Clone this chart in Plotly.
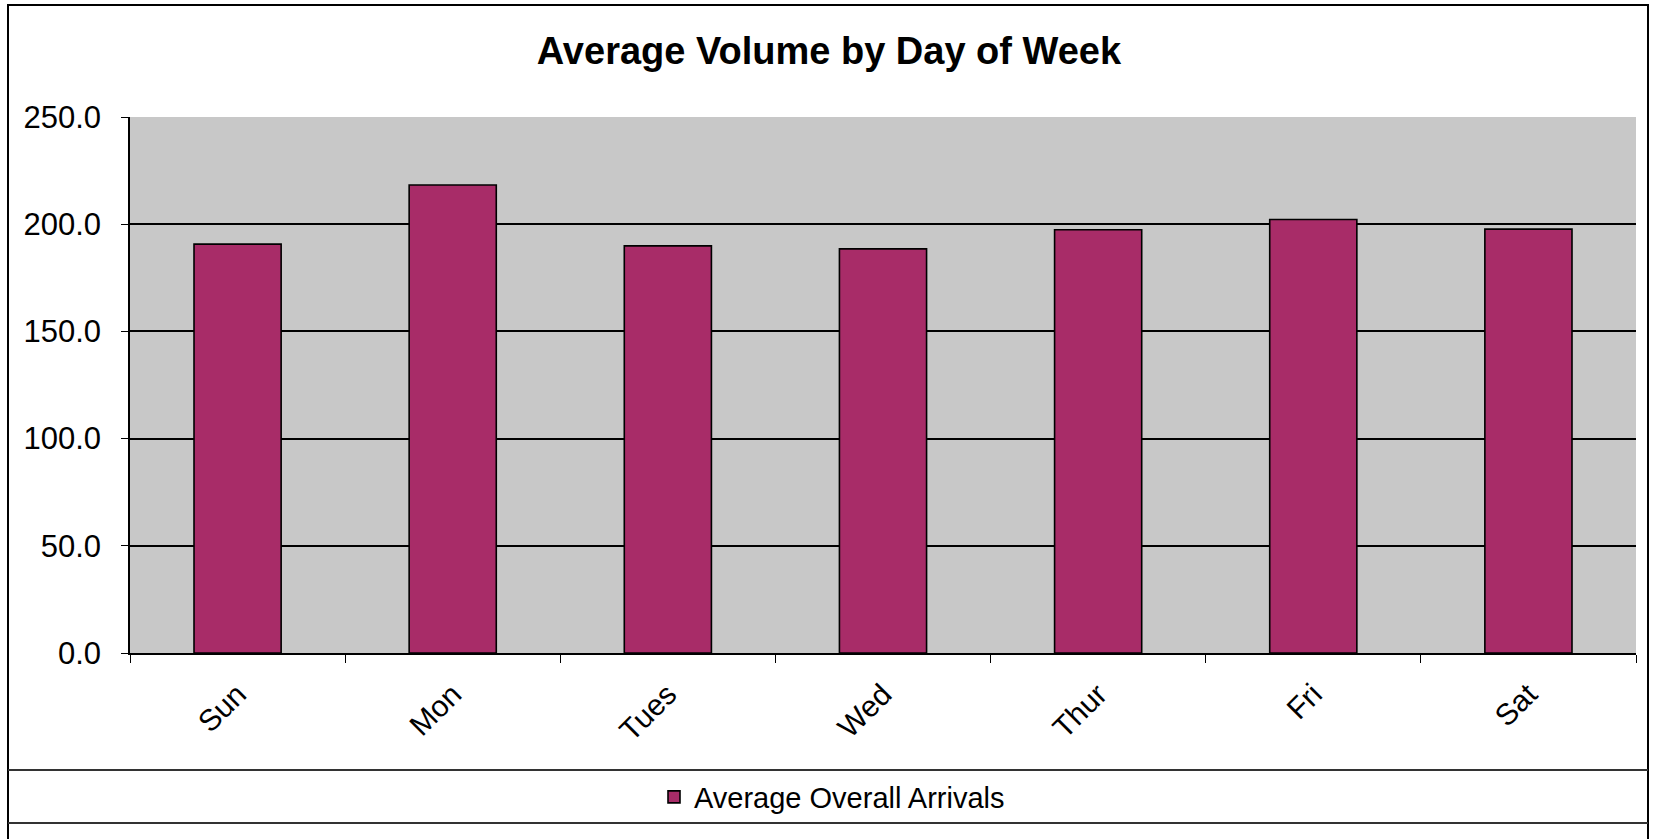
import plotly.graph_objects as go

# Average arrivals per weekday
days = ["Sun", "Mon", "Tues", "Wed", "Thur", "Fri", "Sat"]
avg_arrivals = [190.7, 218.3, 189.9, 188.5, 197.4, 202.2, 197.7]
y_ticks = [0, 50, 100, 150, 200, 250]
y_tick_labels = ["0.0", "50.0", "100.0", "150.0", "200.0", "250.0"]

W, H = 1653, 839
L, R, T, B = 130, 17, 117, 186
PW, PH = W - L - R, H - T - B


def px_x(x):
    return (x - L) / PW


def px_y(y):
    return (H - B - y) / PH


FONT = "Arial, Liberation Sans, sans-serif"

fig = go.Figure(
    go.Bar(
        x=days,
        y=avg_arrivals,
        name="Average Overall Arrivals",
        marker=dict(color="#a82c68", line=dict(color="black", width=1.6)),
        width=0.405,
    )
)

fig.update_layout(
    width=W,
    height=H,
    margin=dict(l=L, r=R, t=T, b=B),
    paper_bgcolor="white",
    plot_bgcolor="#c8c8c8",
    font=dict(family=FONT, size=29, color="black"),
    title=dict(
        text="<b>Average Volume by Day of Week</b>",
        x=0.5015,
        xanchor="center",
        y=1 - 51 / H,
        yanchor="middle",
        font=dict(family=FONT, size=38, color="black"),
    ),
    showlegend=True,
    legend=dict(
        orientation="h",
        x=px_x(654),
        xanchor="left",
        y=px_y(797),
        yanchor="middle",
        bgcolor="rgba(0,0,0,0)",
        font=dict(family=FONT, size=29, color="black"),
    ),
)

fig.update_xaxes(
    type="category",
    tickangle=-45,
    ticks="outside",
    tickson="boundaries",
    ticklen=8,
    tickcolor="black",
    tickwidth=1.2,
    ticklabelstandoff=10,
    showline=True,
    linecolor="black",
    linewidth=1.5,
    showgrid=False,
    tickfont=dict(family=FONT, size=30, color="black"),
)

fig.update_yaxes(
    range=[0, 250],
    tickvals=y_ticks,
    ticktext=y_tick_labels,
    ticks="outside",
    ticklen=7,
    tickcolor="black",
    tickwidth=1.2,
    ticklabelstandoff=14,
    showline=True,
    linecolor="black",
    linewidth=1.5,
    showgrid=True,
    gridcolor="black",
    gridwidth=1.5,
    zeroline=False,
    tickfont=dict(family=FONT, size=31, color="black"),
)

# Chart frame and the legend strip across the bottom
fig.add_shape(
    type="rect", xref="paper", yref="paper",
    x0=px_x(8), x1=px_x(1648), y0=px_y(850), y1=px_y(5),
    line=dict(color="black", width=2), fillcolor="rgba(0,0,0,0)", layer="below",
)
for ypx in (770, 823):
    fig.add_shape(
        type="line", xref="paper", yref="paper",
        x0=px_x(8), x1=px_x(1648), y0=px_y(ypx), y1=px_y(ypx),
        line=dict(color="#333333", width=2),
    )

fig.write_html("out.html")
